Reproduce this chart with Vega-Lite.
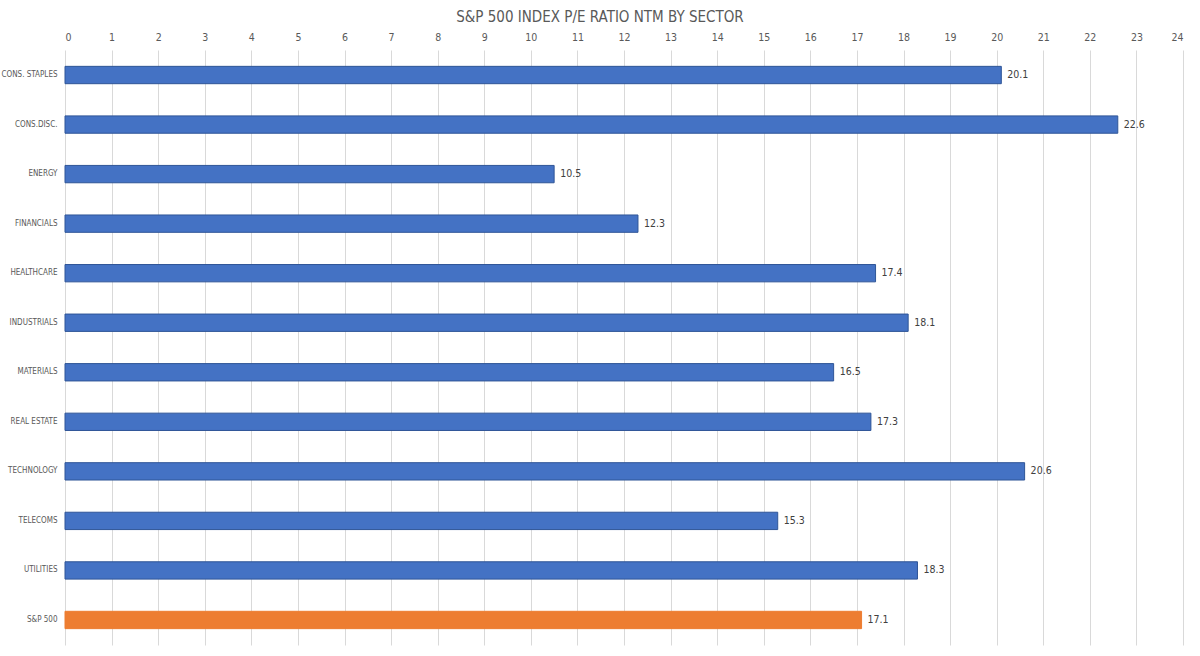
{
  "$schema": "https://vega.github.io/schema/vega-lite/v6.json",
  "autosize": "none",
  "width": 1118,
  "height": 595,
  "padding": {"left": 65, "top": 50, "right": 17, "bottom": 11},
  "background": "white",
  "config": {
    "font": "DejaVu Sans Condensed",
    "view": {"stroke": null}
  },
  "title": {
    "text": "S&P 500 INDEX P/E RATIO NTM BY SECTOR",
    "fontSize": 15,
    "fontWeight": "normal",
    "color": "#595959",
    "anchor": "middle",
    "dx": -24,
    "offset": 7
  },
  "data": {
    "values": [
      {"sector": "CONS. STAPLES", "pe": 20.1, "group": "sector"},
      {"sector": "CONS.DISC.", "pe": 22.6, "group": "sector"},
      {"sector": "ENERGY", "pe": 10.5, "group": "sector"},
      {"sector": "FINANCIALS", "pe": 12.3, "group": "sector"},
      {"sector": "HEALTHCARE", "pe": 17.4, "group": "sector"},
      {"sector": "INDUSTRIALS", "pe": 18.1, "group": "sector"},
      {"sector": "MATERIALS", "pe": 16.5, "group": "sector"},
      {"sector": "REAL ESTATE", "pe": 17.3, "group": "sector"},
      {"sector": "TECHNOLOGY", "pe": 20.6, "group": "sector"},
      {"sector": "TELECOMS", "pe": 15.3, "group": "sector"},
      {"sector": "UTILITIES", "pe": 18.3, "group": "sector"},
      {"sector": "S&P 500", "pe": 17.1, "group": "index"}
    ]
  },
  "encoding": {
    "y": {
      "field": "sector",
      "type": "nominal",
      "sort": null,
      "scale": {"paddingInner": 0.65, "paddingOuter": 0.33},
      "axis": {
        "title": null,
        "domain": false,
        "ticks": false,
        "labelFontSize": 8,
        "labelColor": "#595959",
        "labelPadding": 8,
        "labelLimit": 64
      }
    },
    "x": {
      "field": "pe",
      "type": "quantitative",
      "scale": {"domain": [0, 24], "nice": false},
      "axis": {
        "orient": "top",
        "title": null,
        "values": [0,1,2,3,4,5,6,7,8,9,10,11,12,13,14,15,16,17,18,19,20,21,22,23,24],
        "domain": false,
        "ticks": false,
        "grid": true,
        "gridColor": "#d9d9d9",
        "labelFontSize": 10.5,
        "labelColor": "#595959",
        "labelPadding": 8
      }
    }
  },
  "layer": [
    {
      "mark": {"type": "bar", "strokeWidth": 1},
      "encoding": {
        "color": {
          "field": "group",
          "type": "nominal",
          "scale": {"domain": ["sector", "index"], "range": ["#4472C4", "#ED7D31"]},
          "legend": null
        },
        "stroke": {
          "field": "group",
          "type": "nominal",
          "scale": {"domain": ["sector", "index"], "range": ["#2F5597", "#ED7D31"]},
          "legend": null
        }
      }
    },
    {
      "mark": {"type": "text", "align": "left", "dx": 6, "fontSize": 10.5, "color": "#404040"},
      "encoding": {
        "text": {"field": "pe", "type": "quantitative", "format": ".1f"}
      }
    }
  ]
}
